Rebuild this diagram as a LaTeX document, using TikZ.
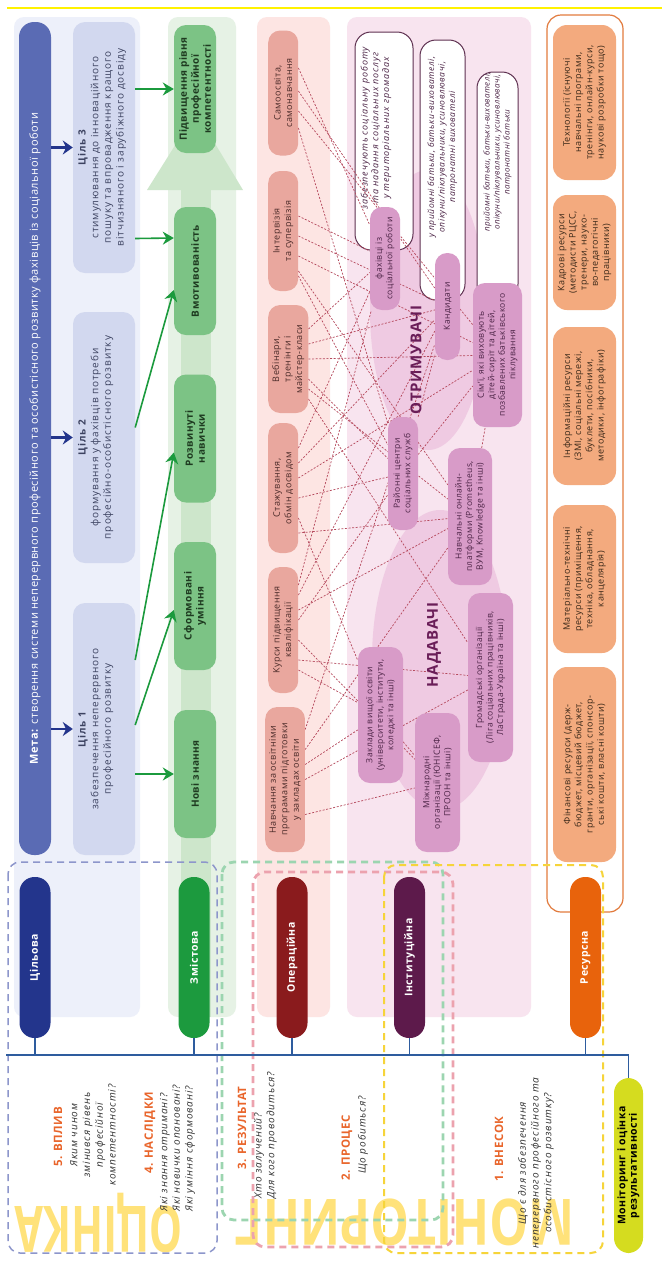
\documentclass[tikz,border=0pt]{standalone}
\usepackage{fontspec}
\setmainfont{Open Sans}[LetterSpace=5]
\newfontfamily\bigfont{Open Sans}
\usetikzlibrary{arrows.meta,calc}

\definecolor{metablue}{HTML}{5A6BB4}
\definecolor{goalbg}{HTML}{EDF0FA}
\definecolor{goalfill}{HTML}{D2D8EF}
\definecolor{goaltxt}{HTML}{3C4260}
\definecolor{navyblue}{HTML}{23358C}
\definecolor{greenbg}{HTML}{E6F2E5}
\definecolor{shaftgreen}{HTML}{CDE6CB}
\definecolor{gainfill}{HTML}{7CC385}
\definecolor{gaintxt}{HTML}{1E3A20}
\definecolor{arrowgreen}{HTML}{1B9A3D}
\definecolor{pinkbg}{HTML}{FDE5E3}
\definecolor{formfill}{HTML}{E9A79E}
\definecolor{formtxt}{HTML}{4A2A28}
\definecolor{instbg}{HTML}{F8E4EF}
\definecolor{blobpink}{HTML}{EFCAE2}
\definecolor{instfill}{HTML}{D89BC8}
\definecolor{insttxt}{HTML}{4A2244}
\definecolor{noteline}{HTML}{5E3050}
\definecolor{rolepurple}{HTML}{6A1D58}
\definecolor{linkred}{HTML}{B5485C}
\definecolor{resline}{HTML}{E27B3E}
\definecolor{resfill}{HTML}{F3AA7E}
\definecolor{restxt}{HTML}{3A2818}
\definecolor{catgreen}{HTML}{1C9A3E}
\definecolor{catred}{HTML}{8A1B1D}
\definecolor{catpurple}{HTML}{5D1A4B}
\definecolor{catorange}{HTML}{E8630C}
\definecolor{busblue}{HTML}{2E5C9E}
\definecolor{monyellow}{HTML}{D5DC1F}
\definecolor{qorange}{HTML}{E9652B}
\definecolor{qgray}{HTML}{333333}
\definecolor{bigyellow}{HTML}{FFE27A}
\definecolor{dashblue}{HTML}{8D96CB}
\definecolor{dashgreen}{HTML}{9CD5B0}
\definecolor{dashpink}{HTML}{ECA2AE}
\definecolor{dashyellow}{HTML}{F6D43A}
\definecolor{topyellow}{HTML}{FFF200}

\pgfdeclarelayer{back}
\pgfdeclarelayer{wires}
\pgfsetlayers{back,wires,main}

\begin{document}
\begin{tikzpicture}[x=1pt,y=-1pt,
  metabar/.style={rotate=90,fill=metablue,rounded corners=15pt,minimum width=833pt,minimum height=32pt,text=white,font=\fontsize{11}{13}\selectfont},
  goalbox/.style={rotate=90,fill=goalfill,rounded corners=12pt,minimum height=62pt},
  goaltext/.style={rotate=90,align=center,inner sep=5pt,text=goaltxt,font=\fontsize{10}{12.7}\selectfont\addfontfeature{LetterSpace=9}},
  gainbox/.style={rotate=90,fill=gainfill,rounded corners=12pt,minimum width=128pt,minimum height=42pt,align=center,text=gaintxt,font=\bfseries\fontsize{10}{12}\selectfont},
  formbox/.style={rotate=90,fill=formfill,rounded corners=12pt,inner sep=4pt,minimum height=30pt,align=center,text=formtxt,font=\fontsize{9}{11.5}\selectfont},
  instbox/.style={rotate=90,fill=instfill,rounded corners=12pt,inner sep=3pt,align=center,text=insttxt,font=\fontsize{8.5}{10.5}\selectfont},
  notebox/.style={rotate=90,fill=white,draw=noteline,line width=1pt,rounded corners=16pt},
  notetext/.style={rotate=90,align=center,text=insttxt,font=\itshape\fontsize{8.5}{10.5}\selectfont},
  rolelabel/.style={rotate=90,text=rolepurple,font=\bfseries\fontsize{15}{17}\selectfont},
  resbox/.style={rotate=90,fill=resfill,rounded corners=14pt,minimum height=63pt,align=center,text=restxt,font=\fontsize{9}{11.2}\selectfont},
  catpill/.style={rotate=90,rounded corners=15pt,minimum width=161pt,minimum height=31pt,text=white,font=\bfseries\fontsize{10.5}{12}\selectfont},
  goalarrow/.style={draw=navyblue,line width=2.5pt,-{Stealth[length=10pt,width=14pt]}},
  gainarrow/.style={draw=arrowgreen,line width=1.6pt,-{Stealth[length=11pt,width=13pt]}},
  link/.style={draw=linkred,line width=0.7pt,dash pattern=on 2pt off 1.6pt},
  bus/.style={draw=busblue,line width=1.6pt},
  frame/.style={rounded corners=12pt,dash pattern=on 7pt off 5pt},
  qtitle/.style={rotate=90,text=qorange,font=\bfseries\fontsize{11.5}{13}\selectfont},
  qtext/.style={rotate=90,align=center,text=qgray,font=\itshape\fontsize{10}{12.7}\selectfont\addfontfeature{LetterSpace=9}},
  bigword/.style={text=bigyellow,font=\bigfont\bfseries\fontsize{64}{64}\selectfont}]

\useasboundingbox (0,0) rectangle (662,1267);

\begin{pgfonlayer}{back}
\fill[white] (0,0) rectangle (662,1267);
% columns
\fill[goalbg,rounded corners=10pt] (14,17) rectangle (140,1017);
\fill[greenbg,rounded corners=10pt] (168,17) rectangle (236,1017);
\fill[shaftgreen] (181,190) rectangle (211,1017);
\fill[shaftgreen] (147,190) -- (243,190) -- (196,112) -- cycle;
\fill[pinkbg,rounded corners=10pt] (257,17) rectangle (330,1017);
\fill[instbg,rounded corners=10pt] (347,17) rectangle (531,1017);
\fill[blobpink] (428,310) ellipse [x radius=58pt,y radius=140pt];
\fill[blobpink] (440,660) ellipse [x radius=68pt,y radius=150pt];
\draw[resline,line width=1.2pt,rounded corners=14pt] (547,15) rectangle (623,912);
% recipients notes
\node[notebox,minimum width=218pt,minimum height=58pt] (W1) at (384,141) {};
\node[notebox,minimum width=260pt,minimum height=45pt] (W2) at (442.5,170) {};
\node[notebox,minimum width=228pt,minimum height=41pt] (W3) at (497.5,186) {};
\node[notetext,font=\itshape\fontsize{9}{10.8}\selectfont\addfontfeature{LetterSpace=10}] (W1t) at (376,128) {забезпечують соціальну роботу\\та надання соціальних послуг\\у територіальних громадах};
\node[notetext,font=\itshape\fontsize{8.5}{10.5}\selectfont\addfontfeature{LetterSpace=7}] (W2t) at (442.5,147) {у прийомні батьки, батьки-вихователі,\\опікуни/піклувальники, усиновлювачі,\\патронатні вихователі};
\node[notetext,font=\itshape\fontsize{8}{10}\selectfont] (W3t) at (497.5,152) {прийомні батьки, батьки-вихователі,\\опікуни/піклувальники, усиновлювачі,\\патронатні батьки};
\end{pgfonlayer}

\draw[topyellow,line width=1.5pt] (7,8) -- (662,8);

% goal
\node[metabar] (meta) at (35,438.5) {\textbf{Мета:} створення системи неперервного професійного та особистісного розвитку фахівців із соціальної роботи};
\node[goalbox,minimum width=251pt] (G3) at (104,147.5) {};
\node[goalbox,minimum width=251pt] (G2) at (104,437.5) {};
\node[goalbox,minimum width=252pt] (G1) at (104,729) {};
\node[goaltext,anchor=north] (G3t) at (G3.north) {\textbf{Ціль 3}\\стимулювання до інноваційного\\пошуку та впровадження кращого\\вітчизняного і зарубіжного досвіду};
\node[goaltext,anchor=north] (G2t) at (G2.north) {\textbf{Ціль 2}\\формування у фахівців потреби\\професійно-особистісного розвитку};
\node[goaltext,anchor=north] (G1t) at (G1.north) {\textbf{Ціль 1}\\забезпечення неперервного\\професійного розвитку};
\foreach \g in {G1,G2,G3}
  \draw[goalarrow] (meta.south |- \g.north) -- (\g.north);

% content
\node[gainbox] (N5) at (195,89) {Підвищення рівня\\професійної\\компетентності};
\node[gainbox] (N4) at (195,271) {Вмотивованість};
\node[gainbox] (N3) at (195,438.5) {Розвинуті\\навички};
\node[gainbox] (N2) at (195,606) {Сформовані\\уміння};
\node[gainbox] (N1) at (195,774) {Нові знання};
\draw[gainarrow] (G3.south |- N5.north) -- (N5.north);
\draw[gainarrow] ([yshift=-91pt]G3.south) -- ([yshift=33pt]N4.north);
\draw[gainarrow] ([yshift=10pt]G2.south) -- ([yshift=-19pt]N4.north);
\draw[gainarrow] ([yshift=69pt]G1.south) -- ([yshift=-14pt]N3.north);
\draw[gainarrow] ([yshift=4pt]G1.south) -- ([yshift=-4pt]N2.north);
\draw[gainarrow] (G1.south |- N1.north) -- (N1.north);

% forms
\node[formbox,minimum width=125pt,anchor=north] (S1) at (268,93) {Самоосвіта,\\самонавчання};
\node[formbox,minimum width=120pt,anchor=north] (S2) at (268,231) {Інтервізія\\та супервізія};
\node[formbox,minimum width=108pt,anchor=north] (S3) at (268,359) {Вебінари,\\тренінги і\\майстер-класи};
\node[formbox,minimum width=130pt,anchor=north] (S4) at (268,488) {Стажування,\\обмін досвідом};
\node[formbox,minimum width=126pt,anchor=north] (S5) at (268,630) {Курси підвищення\\кваліфікації};
\node[formbox,minimum width=145pt,anchor=north] (S6) at (265,779.5) {Навчання за освітніми\\програмами підготовки\\у закладах освіти};

% institutions
\node[instbox,minimum width=103pt,minimum height=30pt] (R1) at (385,258.5) {фахівці із\\соціальної роботи};
\node[instbox,minimum width=107pt,minimum height=25pt] (R2) at (447.5,306.5) {Кандидати};
\node[instbox,minimum width=144pt,minimum height=49pt] (R3) at (497.5,355) {Сім’ї, які виховують\\дітей-сиріт та дітей,\\позбавлених батьківського\\піклування};
\node[rolelabel] (recv) at (416,360) {ОТРИМУВАЧІ};
\node[instbox,minimum width=113pt,minimum height=30pt] (P1) at (403,473.5) {Районні центри\\соціальних служб};
\node[instbox,minimum width=137pt,minimum height=44pt] (P2) at (470,516.5) {Навчальні онлайн-\\платформи (Prometheus,\\ВУМ, Knowledge та інші)};
\node[rolelabel] (prov) at (434,645) {НАДАВАЧІ};
\node[instbox,minimum width=136pt,minimum height=45pt] (P3) at (380.5,715) {Заклади вищої освіти\\(університети, інститути,\\коледжі та інші)};
\node[instbox,minimum width=169pt,minimum height=45pt] (P4) at (490.5,677.5) {Громадські організації\\(Ліга соціальних працівників,\\ЛаСтрада-Україна та інші)};
\node[instbox,minimum width=139pt,minimum height=45pt] (P5) at (437.5,782.5) {Міжнародні\\організації (ЮНІСЕФ,\\ПРООН та інші)};

\begin{pgfonlayer}{wires}
\foreach \a/\s/\b in {S1/25/R1,S1/2/R2,S1/-18/R3,S1/-35/P1,
    S2/15/R1,S2/-5/R2,S2/-25/R3,S2/-40/P2,S2/-45/P1,
    S3/30/R1,S3/15/R2,S3/0/R3,S3/-20/P1,S3/-30/P2,S3/-40/P4,
    S4/40/R1,S4/25/R2,S4/10/R3,S4/-10/P1,S4/-30/P3,S4/-45/P2,
    S5/45/R1,S5/35/R2,S5/20/P2,S5/10/P1,S5/-40/P3,S5/-30/P4,S5/-10/P5,
    S6/50/R2,S6/30/P2,S6/15/P3,S6/0/P4,S6/-35/P5}
  \draw[link] ([yshift=\s]\a.south) -- (\b);
\foreach \a/\b in {P1/R2,P1/R3,P2/R3,P3/P5}
  \draw[link] (\a) -- (\b);
\end{pgfonlayer}

% resources
\node[resbox,minimum width=155pt] (O1) at (584.5,102.5) {Технології (існуючі\\навчальні програми,\\тренінги, онлайн-курси,\\наукові розробки тощо)};
\node[resbox,minimum width=115pt] (O2) at (584.5,252.5) {Кадрові ресурси\\(методисти РЦСС,\\тренери, науко-\\во-педагогічні\\працівники)};
\node[resbox,minimum width=158pt] (O3) at (584.5,406) {Інформаційні ресурси\\(ЗМІ, соціальні мережі,\\буклети, посібники,\\методики, інфографіки)};
\node[resbox,minimum width=148pt] (O4) at (584.5,579) {Матеріально-технічні\\ресурси (приміщення,\\техніка, обладнання,\\канцелярія)};
\node[resbox,minimum width=195pt] (O5) at (584.5,764.5) {Фінансові ресурси (держ-\\бюджет, місцевий бюджет,\\гранти, організації, спонсор-\\ські кошти, власні кошти)};

% monitoring part
\node[bigword,rotate=180,xscale=0.65] (evalword) at (99,1223) {ОЦІНКА};
\node[bigword,rotate=180,xscale=0.76] (monword) at (405,1222) {МОНІТОРИНГ};
\draw[frame,dashblue,line width=1.5pt] (8,862) rectangle (217,1253);
\draw[frame,dashgreen,line width=2.8pt] (222,862) rectangle (443,1220);
\draw[frame,dashpink,line width=2.8pt] (253,872) rectangle (453,1247);
\draw[frame,dashyellow,line width=2pt] (384,865) rectangle (603,1253);

\node[catpill,fill=navyblue] (C1) at (35,957.5) {Цільова};
\node[catpill,fill=catgreen] (C2) at (194,957.5) {Змістова};
\node[catpill,fill=catred] (C3) at (292,957.5) {Операційна};
\node[catpill,fill=catpurple] (C4) at (409.5,957.5) {Інституційна};
\node[catpill,fill=catorange] (C5) at (585.5,957.5) {Ресурсна};
\node[catpill,fill=monyellow,text=black,minimum width=175pt,minimum height=29pt,align=center,font=\bfseries\fontsize{10.5}{11.5}\selectfont] (M) at (628.5,1165.5) {Моніторинг і оцінка\\результативності};

\coordinate (busL) at (6,1055);
\draw[bus] (busL) -- (busL -| M.east) -- (M.east);
\foreach \c in {C1,C2,C3,C4,C5}
  \draw[bus] (\c.west) -- (\c.west |- busL);

\node[qtitle] (Q5) at (58,1137) {5. ВПЛИВ};
\node[qtext] (Q5t) at (93,1135) {Яким чином\\змінився рівень\\професійної\\компетентності?};
\node[qtitle] (Q4) at (150,1133) {4. НАСЛІДКИ};
\node[qtext,align=left,anchor=west] (Q4t) at (177.5,1215) {Які знання отримані?\\Які навички опановані?\\Які уміння сформовані?};
\node[qtitle] (Q3) at (242,1128) {3. РЕЗУЛЬТАТ};
\node[qtext,align=left,anchor=west] (Q3t) at (265.5,1202) {Хто залучений?\\Для кого проводиться?};
\node[qtitle] (Q2) at (347,1148) {2. ПРОЦЕС};
\node[qtext] (Q2t) at (363,1135) {Що робиться?};
\node[qtitle] (Q1) at (499,1149) {1. ВНЕСОК};
\node[qtext] (Q1t) at (536,1163) {Що є для забезпечення\\неперервного професійного та\\особистісного розвитку?};
\end{tikzpicture}
\end{document}
